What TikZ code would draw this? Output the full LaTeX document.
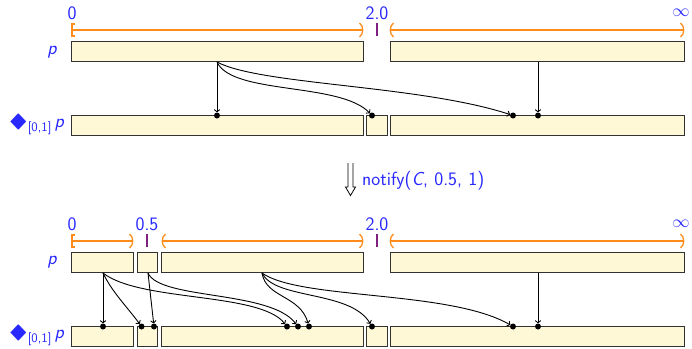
\documentclass[tikz,border=0pt]{standalone}
\usepackage{amssymb}
\usepackage{graphicx}
\usepackage{fontspec}
\usetikzlibrary{arrows.meta}
\definecolor{boxfill}{RGB}{255,248,214}
\definecolor{boxline}{RGB}{50,50,50}
\definecolor{ivorange}{RGB}{255,140,26}
\definecolor{tickpurple}{RGB}{128,32,128}
\definecolor{lblue}{RGB}{40,40,255}
\newcommand{\dlabel}{\scalebox{1.5}[1]{$\blacklozenge$}\raisebox{-4pt}{\fontsize{13}{14}\selectfont[0,1]}\,{\itshape p}}
% interval end marks at (x,y)
\newcommand{\lbrk}[2]{\draw[ivl] (#1+3,#2-6) -- (#1,#2-6) -- (#1,#2+6) -- (#1+3,#2+6);}
\newcommand{\rpar}[2]{\draw[ivl] (#1-3.5,#2-7) .. controls (#1+0.8,#2-4) and (#1+0.8,#2+4) .. (#1-3.5,#2+7);}
\newcommand{\lpar}[2]{\draw[ivl] (#1+3.5,#2-7) .. controls (#1-0.8,#2-4) and (#1-0.8,#2+4) .. (#1+3.5,#2+7);}
\begin{document}
\begin{tikzpicture}[x=1pt,y=-1pt,font=\fontsize{19}{22}\selectfont\sffamily,
  box/.style={draw=boxline, line width=1.2pt, fill=boxfill, inner sep=0pt, outer sep=0pt, minimum height=19.8pt, anchor=north west},
  dotn/.style={circle, fill=black, inner sep=0pt, minimum size=6pt},
  arr/.style={-{To[length=3pt,width=6pt]}, line width=0.9pt, black},
  ivl/.style={draw=ivorange, line width=1.3pt},
  ptick/.style={draw=tickpurple, line width=1.4pt},
  lbl/.style={text=lblue, inner sep=0pt}]
\useasboundingbox (0,0) rectangle (692,348);

% ---------------- top section ----------------
\node[lbl] (t0) at (72,13) {0};
\node[lbl] (t20) at (377,13) {2.0};
\node[lbl] (tinf) at (681,13) {$\infty$};
\draw[ivl] (72,30) -- (363,30);
\lbrk{72}{30}\rpar{363}{30}
\draw[ptick] (377,23) -- (377,36);
\draw[ivl] (390,30) -- (684,30);
\lpar{390}{30}\rpar{684}{30}

\node[lbl] (tp) at (52,52) {\itshape p};
\node[lbl, anchor=east] (tdp) at (64,125) {\dlabel};

\node[box, minimum width=291.8pt] (tpA) at (71.6,41.6) {};
\node[box, minimum width=293.8pt] (tpB) at (390.6,41.6) {};
\node[box, minimum width=291.8pt] (tdA) at (71.6,115.6) {};
\node[box, minimum width=20.8pt] (tdB) at (366.6,115.6) {};
\node[box, minimum width=293.8pt] (tdC) at (390.6,115.6) {};

\coordinate (ts1) at (217,62);
\coordinate (ts2) at (538,62);
\node[dotn] (td1) at (217,115.5) {};
\node[dotn] (td2) at (372,115.5) {};
\node[dotn] (td3) at (513,115.5) {};
\node[dotn] (td4) at (538,115.5) {};

\draw[arr] (ts1) -- (td1);
\draw[arr] (ts1) .. controls (232,95) and (340,82) .. (td2);
\draw[arr] (ts1) .. controls (260,85) and (420,85) .. (td3);
\draw[arr] (ts2) -- (td4);

% ---------------- notify arrow ----------------
\draw[line width=0.8pt] (348,163) -- (348,187) -- (345.5,187) -- (350.5,195.5) -- (355.5,187) -- (353,187) -- (353,163);
\node[lbl, anchor=west] (nt) at (362,181) {notify(\textit{C},\,\,0.5,\,\,1)};

% ---------------- bottom section ----------------
\node[lbl] (b0) at (72,224) {0};
\node[lbl] (b05) at (147,224) {0.5};
\node[lbl] (b20) at (377,224) {2.0};
\node[lbl] (binf) at (681,224) {$\infty$};
\draw[ivl] (72,241) -- (133,241);
\lbrk{72}{241}\rpar{133}{241}
\draw[ptick] (147,234) -- (147,247);
\draw[ivl] (162,241) -- (363,241);
\lpar{162}{241}\rpar{363}{241}
\draw[ptick] (377,234) -- (377,247);
\draw[ivl] (390,241) -- (684,241);
\lpar{390}{241}\rpar{684}{241}

\node[lbl] (bp) at (52,262) {\itshape p};
\node[lbl, anchor=east] (bdp) at (64,336) {\dlabel};

\node[box, minimum width=61.8pt] (bpA) at (71.6,252.6) {};
\node[box, minimum width=19.8pt] (bpB) at (137.6,252.6) {};
\node[box, minimum width=201.8pt] (bpC) at (161.6,252.6) {};
\node[box, minimum width=293.8pt] (bpD) at (390.6,252.6) {};
\node[box, minimum width=61.8pt] (bdA) at (71.6,326.6) {};
\node[box, minimum width=19.8pt] (bdB) at (137.6,326.6) {};
\node[box, minimum width=201.8pt] (bdC) at (161.6,326.6) {};
\node[box, minimum width=20.8pt] (bdD) at (366.6,326.6) {};
\node[box, minimum width=293.8pt] (bdE) at (390.6,326.6) {};

\coordinate (bsa) at (103,273);
\coordinate (bsb) at (148,273);
\coordinate (bsc) at (262,273);
\coordinate (bsd) at (538,273);
\node[dotn] (bd1) at (103,326.5) {};
\node[dotn] (bd2) at (141.5,326.5) {};
\node[dotn] (bd3) at (154,326.5) {};
\node[dotn] (bd4) at (287,326.5) {};
\node[dotn] (bd5) at (298,326.5) {};
\node[dotn] (bd6) at (309,326.5) {};
\node[dotn] (bd7) at (372,326.5) {};
\node[dotn] (bd8) at (513,326.5) {};
\node[dotn] (bd9) at (538,326.5) {};

\draw[arr] (bsa) -- (bd1);
\draw[arr] (bsa) .. controls (112,292) and (128,308) .. (bd2);
\draw[arr] (bsa) .. controls (140,302) and (260,292) .. (bd4);
\draw[arr] (bsb) -- (bd3);
\draw[arr] (bsb) .. controls (160,300) and (270,290) .. (bd5);
\draw[arr] (bsc) .. controls (266,298) and (300,295) .. (bd6);
\draw[arr] (bsc) .. controls (275,300) and (350,290) .. (bd7);
\draw[arr] (bsc) .. controls (300,300) and (450,290) .. (bd8);
\draw[arr] (bsd) -- (bd9);
\end{tikzpicture}
\end{document}
